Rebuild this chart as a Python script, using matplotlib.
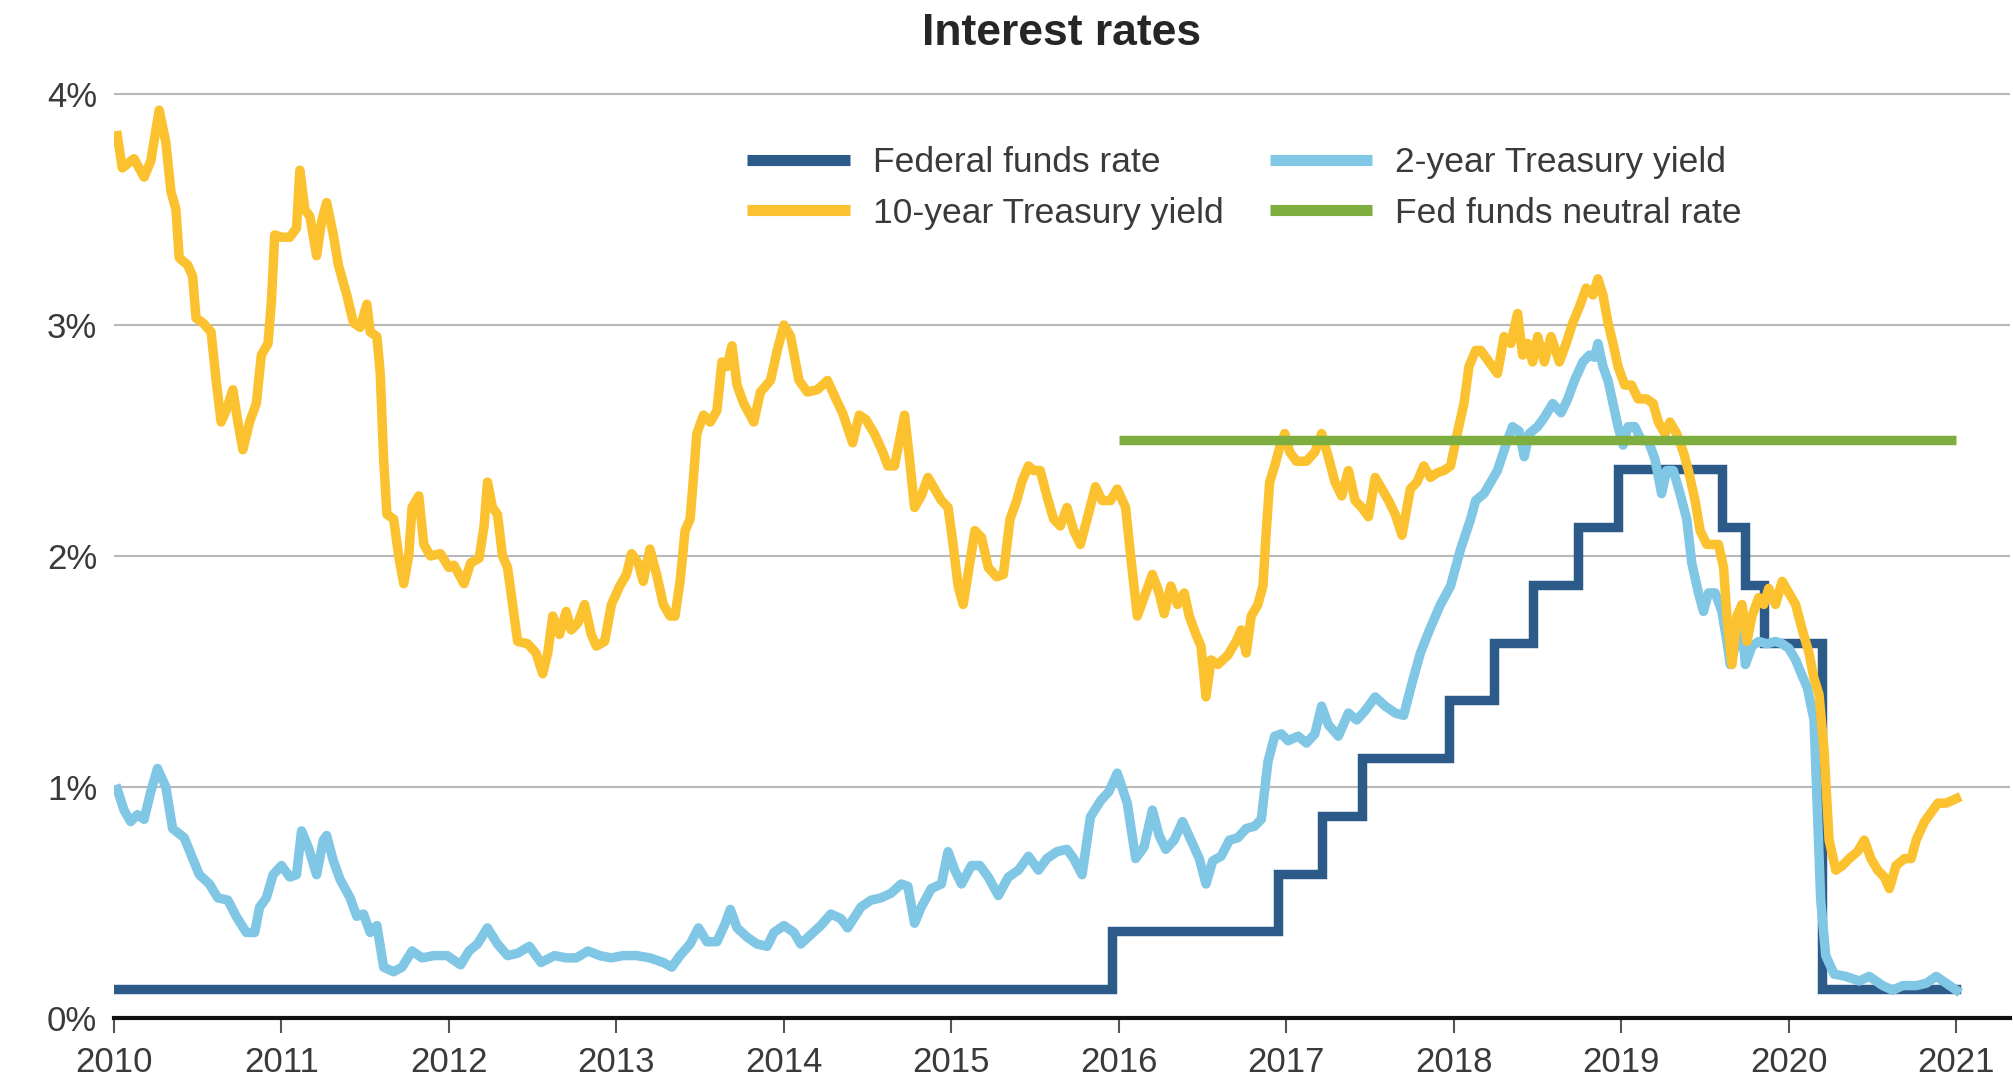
import matplotlib.pyplot as plt

# (decimal year, percent)
ten_year = [
    (2010.02, 3.82), (2010.05, 3.68), (2010.12, 3.72), (2010.18, 3.64), (2010.22, 3.71),
    (2010.27, 3.93), (2010.31, 3.79), (2010.34, 3.58), (2010.37, 3.50), (2010.39, 3.29),
    (2010.44, 3.26), (2010.47, 3.21), (2010.49, 3.03), (2010.53, 3.01), (2010.58, 2.97),
    (2010.61, 2.76), (2010.64, 2.58), (2010.67, 2.63), (2010.71, 2.72), (2010.74, 2.58),
    (2010.77, 2.46), (2010.81, 2.58), (2010.85, 2.66), (2010.88, 2.87), (2010.92, 2.92),
    (2010.94, 3.10), (2010.96, 3.39), (2011.00, 3.38), (2011.05, 3.38), (2011.09, 3.42),
    (2011.11, 3.67), (2011.14, 3.50), (2011.17, 3.47), (2011.21, 3.30), (2011.24, 3.45),
    (2011.27, 3.53), (2011.31, 3.39), (2011.34, 3.26), (2011.39, 3.13), (2011.43, 3.01),
    (2011.47, 2.99), (2011.51, 3.09), (2011.53, 2.97), (2011.57, 2.95), (2011.59, 2.79),
    (2011.61, 2.42), (2011.63, 2.18), (2011.67, 2.16), (2011.70, 2.00), (2011.73, 1.88),
    (2011.76, 2.00), (2011.78, 2.21), (2011.82, 2.26), (2011.85, 2.05), (2011.89, 2.00),
    (2011.95, 2.01), (2012.00, 1.95), (2012.03, 1.96), (2012.09, 1.88), (2012.13, 1.97),
    (2012.18, 1.99), (2012.21, 2.13), (2012.23, 2.32), (2012.26, 2.21), (2012.29, 2.18),
    (2012.32, 2.00), (2012.35, 1.95), (2012.38, 1.79), (2012.41, 1.63), (2012.47, 1.62),
    (2012.52, 1.58), (2012.56, 1.49), (2012.59, 1.58), (2012.62, 1.74), (2012.66, 1.66),
    (2012.70, 1.76), (2012.73, 1.68), (2012.77, 1.71), (2012.81, 1.79), (2012.85, 1.66),
    (2012.88, 1.61), (2012.93, 1.63), (2012.97, 1.79), (2013.02, 1.87), (2013.06, 1.92),
    (2013.09, 2.01), (2013.13, 1.97), (2013.16, 1.89), (2013.20, 2.03), (2013.24, 1.92),
    (2013.28, 1.79), (2013.32, 1.74), (2013.35, 1.74), (2013.38, 1.89), (2013.41, 2.11),
    (2013.44, 2.16), (2013.46, 2.34), (2013.48, 2.53), (2013.52, 2.61), (2013.56, 2.58),
    (2013.60, 2.63), (2013.63, 2.84), (2013.66, 2.82), (2013.69, 2.91), (2013.72, 2.74),
    (2013.76, 2.66), (2013.82, 2.58), (2013.86, 2.71), (2013.92, 2.76), (2013.96, 2.89),
    (2014.00, 3.00), (2014.04, 2.95), (2014.09, 2.76), (2014.14, 2.71), (2014.20, 2.72),
    (2014.26, 2.76), (2014.31, 2.68), (2014.35, 2.62), (2014.41, 2.49), (2014.45, 2.61),
    (2014.49, 2.59), (2014.54, 2.53), (2014.59, 2.45), (2014.62, 2.39), (2014.66, 2.39),
    (2014.69, 2.50), (2014.72, 2.61), (2014.75, 2.42), (2014.78, 2.21), (2014.82, 2.26),
    (2014.86, 2.34), (2014.90, 2.29), (2014.94, 2.24), (2014.98, 2.21), (2015.01, 2.05),
    (2015.04, 1.87), (2015.07, 1.79), (2015.11, 1.97), (2015.14, 2.11), (2015.18, 2.08),
    (2015.22, 1.95), (2015.27, 1.91), (2015.31, 1.92), (2015.35, 2.16), (2015.39, 2.24),
    (2015.42, 2.32), (2015.46, 2.39), (2015.49, 2.37), (2015.53, 2.37), (2015.57, 2.26),
    (2015.61, 2.16), (2015.65, 2.13), (2015.69, 2.21), (2015.73, 2.11), (2015.77, 2.05),
    (2015.81, 2.16), (2015.86, 2.30), (2015.90, 2.24), (2015.95, 2.24), (2015.99, 2.29),
    (2016.04, 2.21), (2016.07, 2.00), (2016.11, 1.74), (2016.15, 1.82), (2016.20, 1.92),
    (2016.24, 1.84), (2016.27, 1.75), (2016.31, 1.87), (2016.35, 1.79), (2016.39, 1.84),
    (2016.42, 1.74), (2016.46, 1.66), (2016.49, 1.61), (2016.52, 1.39), (2016.55, 1.55),
    (2016.59, 1.53), (2016.65, 1.57), (2016.70, 1.63), (2016.73, 1.68), (2016.76, 1.58),
    (2016.79, 1.74), (2016.83, 1.79), (2016.86, 1.87), (2016.88, 2.11), (2016.90, 2.32),
    (2016.93, 2.39), (2016.96, 2.47), (2016.99, 2.53), (2017.02, 2.45), (2017.06, 2.41),
    (2017.12, 2.41), (2017.17, 2.45), (2017.21, 2.53), (2017.25, 2.43), (2017.29, 2.32),
    (2017.33, 2.26), (2017.37, 2.37), (2017.41, 2.24), (2017.45, 2.21), (2017.49, 2.17),
    (2017.53, 2.34), (2017.57, 2.29), (2017.61, 2.24), (2017.65, 2.18), (2017.69, 2.09),
    (2017.72, 2.21), (2017.74, 2.29), (2017.78, 2.32), (2017.82, 2.39), (2017.86, 2.34),
    (2017.90, 2.36), (2017.94, 2.37), (2017.98, 2.39), (2018.02, 2.53), (2018.06, 2.66),
    (2018.09, 2.82), (2018.13, 2.89), (2018.16, 2.89), (2018.21, 2.84), (2018.26, 2.79),
    (2018.30, 2.95), (2018.34, 2.92), (2018.38, 3.05), (2018.41, 2.87), (2018.44, 2.92),
    (2018.47, 2.84), (2018.50, 2.95), (2018.54, 2.84), (2018.58, 2.95), (2018.63, 2.84),
    (2018.67, 2.92), (2018.71, 3.01), (2018.75, 3.08), (2018.79, 3.16), (2018.83, 3.13),
    (2018.86, 3.20), (2018.89, 3.13), (2018.92, 3.01), (2018.95, 2.92), (2018.98, 2.82),
    (2019.02, 2.74), (2019.06, 2.74), (2019.10, 2.68), (2019.15, 2.68), (2019.19, 2.66),
    (2019.22, 2.58), (2019.26, 2.53), (2019.29, 2.58), (2019.33, 2.53), (2019.37, 2.45),
    (2019.40, 2.37), (2019.44, 2.24), (2019.47, 2.11), (2019.51, 2.05), (2019.55, 2.05),
    (2019.58, 2.05), (2019.61, 1.95), (2019.63, 1.74), (2019.66, 1.53), (2019.69, 1.74),
    (2019.72, 1.79), (2019.75, 1.63), (2019.78, 1.74), (2019.82, 1.82), (2019.85, 1.79),
    (2019.88, 1.86), (2019.92, 1.79), (2019.96, 1.89), (2020.00, 1.84), (2020.04, 1.79),
    (2020.08, 1.68), (2020.12, 1.58), (2020.15, 1.47), (2020.18, 1.40), (2020.21, 1.16),
    (2020.24, 0.77), (2020.28, 0.64), (2020.32, 0.66), (2020.36, 0.69), (2020.41, 0.72),
    (2020.45, 0.77), (2020.49, 0.69), (2020.53, 0.64), (2020.57, 0.61), (2020.60, 0.56),
    (2020.64, 0.66), (2020.69, 0.69), (2020.73, 0.69), (2020.76, 0.77), (2020.81, 0.85),
    (2020.86, 0.90), (2020.89, 0.93), (2020.94, 0.93), (2021.00, 0.95),
]

two_year = [
    (2010.02, 0.99), (2010.06, 0.90), (2010.10, 0.85), (2010.14, 0.88), (2010.18, 0.86),
    (2010.22, 0.98), (2010.26, 1.08), (2010.31, 1.00), (2010.35, 0.82), (2010.42, 0.78),
    (2010.47, 0.69), (2010.51, 0.62), (2010.57, 0.58), (2010.62, 0.52), (2010.68, 0.51),
    (2010.73, 0.44), (2010.79, 0.37), (2010.84, 0.37), (2010.87, 0.48), (2010.91, 0.52),
    (2010.95, 0.62), (2011.00, 0.66), (2011.05, 0.61), (2011.09, 0.62), (2011.12, 0.81),
    (2011.16, 0.74), (2011.21, 0.62), (2011.25, 0.77), (2011.27, 0.79), (2011.31, 0.68),
    (2011.35, 0.60), (2011.41, 0.52), (2011.45, 0.44), (2011.49, 0.45), (2011.53, 0.37),
    (2011.57, 0.40), (2011.61, 0.22), (2011.67, 0.20), (2011.72, 0.22), (2011.78, 0.29),
    (2011.84, 0.26), (2011.91, 0.27), (2011.99, 0.27), (2012.07, 0.23), (2012.12, 0.29),
    (2012.17, 0.32), (2012.23, 0.39), (2012.29, 0.32), (2012.35, 0.27), (2012.41, 0.28),
    (2012.48, 0.31), (2012.55, 0.24), (2012.63, 0.27), (2012.70, 0.26), (2012.76, 0.26),
    (2012.83, 0.29), (2012.90, 0.27), (2012.97, 0.26), (2013.04, 0.27), (2013.12, 0.27),
    (2013.20, 0.26), (2013.28, 0.24), (2013.33, 0.22), (2013.38, 0.27), (2013.44, 0.32),
    (2013.49, 0.39), (2013.54, 0.33), (2013.60, 0.33), (2013.65, 0.41), (2013.68, 0.47),
    (2013.72, 0.39), (2013.78, 0.35), (2013.84, 0.32), (2013.90, 0.31), (2013.94, 0.37),
    (2014.00, 0.40), (2014.06, 0.37), (2014.10, 0.32), (2014.16, 0.36), (2014.22, 0.40),
    (2014.28, 0.45), (2014.34, 0.43), (2014.38, 0.39), (2014.46, 0.48), (2014.52, 0.51),
    (2014.58, 0.52), (2014.64, 0.54), (2014.70, 0.58), (2014.74, 0.57), (2014.78, 0.41),
    (2014.82, 0.48), (2014.88, 0.56), (2014.94, 0.58), (2014.98, 0.72), (2015.02, 0.64),
    (2015.06, 0.58), (2015.12, 0.66), (2015.17, 0.66), (2015.22, 0.61), (2015.28, 0.53),
    (2015.34, 0.61), (2015.40, 0.64), (2015.46, 0.70), (2015.52, 0.64), (2015.57, 0.69),
    (2015.63, 0.72), (2015.69, 0.73), (2015.73, 0.69), (2015.78, 0.62), (2015.83, 0.87),
    (2015.89, 0.94), (2015.94, 0.98), (2015.99, 1.06), (2016.05, 0.93), (2016.10, 0.69),
    (2016.15, 0.74), (2016.20, 0.90), (2016.24, 0.79), (2016.28, 0.73), (2016.33, 0.77),
    (2016.38, 0.85), (2016.43, 0.77), (2016.48, 0.69), (2016.52, 0.58), (2016.56, 0.68),
    (2016.61, 0.70), (2016.66, 0.77), (2016.71, 0.78), (2016.76, 0.82), (2016.81, 0.83),
    (2016.85, 0.86), (2016.89, 1.11), (2016.93, 1.22), (2016.97, 1.23), (2017.01, 1.20),
    (2017.07, 1.22), (2017.12, 1.19), (2017.17, 1.23), (2017.21, 1.35), (2017.25, 1.27),
    (2017.31, 1.22), (2017.37, 1.32), (2017.42, 1.29), (2017.47, 1.33), (2017.53, 1.39),
    (2017.59, 1.35), (2017.65, 1.32), (2017.70, 1.31), (2017.75, 1.45), (2017.80, 1.58),
    (2017.86, 1.69), (2017.92, 1.79), (2017.98, 1.87), (2018.04, 2.03), (2018.10, 2.16),
    (2018.13, 2.24), (2018.18, 2.27), (2018.22, 2.32), (2018.26, 2.37), (2018.31, 2.48),
    (2018.35, 2.56), (2018.39, 2.54), (2018.42, 2.43), (2018.45, 2.53), (2018.50, 2.56),
    (2018.54, 2.60), (2018.59, 2.66), (2018.64, 2.62), (2018.68, 2.68), (2018.72, 2.76),
    (2018.77, 2.84), (2018.81, 2.87), (2018.84, 2.86), (2018.86, 2.92), (2018.89, 2.82),
    (2018.92, 2.76), (2018.95, 2.66), (2018.98, 2.56), (2019.01, 2.48), (2019.04, 2.56),
    (2019.08, 2.56), (2019.12, 2.50), (2019.16, 2.50), (2019.20, 2.42), (2019.24, 2.27),
    (2019.27, 2.37), (2019.31, 2.37), (2019.35, 2.27), (2019.39, 2.16), (2019.42, 1.97),
    (2019.46, 1.84), (2019.49, 1.76), (2019.52, 1.84), (2019.56, 1.84), (2019.60, 1.76),
    (2019.63, 1.63), (2019.65, 1.53), (2019.68, 1.61), (2019.72, 1.71), (2019.74, 1.53),
    (2019.78, 1.61), (2019.82, 1.63), (2019.87, 1.62), (2019.92, 1.63), (2019.96, 1.62),
    (2020.00, 1.60), (2020.04, 1.55), (2020.08, 1.48), (2020.11, 1.43), (2020.15, 1.29),
    (2020.17, 0.90), (2020.19, 0.51), (2020.22, 0.27), (2020.27, 0.19), (2020.34, 0.18),
    (2020.42, 0.16), (2020.48, 0.18), (2020.56, 0.14), (2020.62, 0.12), (2020.68, 0.14),
    (2020.76, 0.14), (2020.82, 0.15), (2020.88, 0.18), (2020.94, 0.15), (2021.00, 0.12),
]

# target range midpoints, each value holds until the next date
fed_funds_dates = [2010.0, 2015.96, 2016.95, 2017.21, 2017.45, 2017.97, 2018.24,
                   2018.47, 2018.74, 2018.98, 2019.60, 2019.74, 2019.85, 2020.20, 2021.0]
fed_funds = [0.125, 0.375, 0.625, 0.875, 1.125, 1.375, 1.625,
             1.875, 2.125, 2.375, 2.125, 1.875, 1.625, 0.125, 0.125]

neutral_dates = [2016.0, 2021.0]
neutral = [2.5, 2.5]

year_ticks = list(range(2010, 2022))
pct_ticks = [0, 1, 2, 3, 4]

c_fed = "#2c5b8a"
c_two = "#80c6e5"
c_ten = "#fbc12e"
c_neu = "#7fae40"
txt = "#3a3a3a"

plt.rcParams["font.family"] = ["Liberation Sans", "DejaVu Sans"]

fig = plt.figure(figsize=(20.13, 10.78), dpi=100)
ax = fig.add_axes([0.0566, 0.0557, 0.9419, 0.8678])

lw = 6.8
ax.plot(fed_funds_dates, fed_funds, drawstyle="steps-post", color=c_fed, lw=lw,
        label="Federal funds rate", solid_joinstyle="miter")
t2, v2 = zip(*two_year)
ax.plot(t2, v2, color=c_two, lw=lw, label="2-year Treasury yield", solid_joinstyle="round")
t10, v10 = zip(*ten_year)
ax.plot(t10, v10, color=c_ten, lw=lw, label="10-year Treasury yield", solid_joinstyle="round")
ax.plot(neutral_dates, neutral, color=c_neu, lw=lw, label="Fed funds neutral rate",
        solid_capstyle="butt")

ax.set_xlim(2010, 2021.32)
ax.set_ylim(0, 4.05)
ax.set_xticks(year_ticks)
ax.set_xticklabels([str(y) for y in year_ticks])
ax.set_yticks(pct_ticks)
ax.set_yticklabels([f"{p}%" for p in pct_ticks])

ax.grid(axis="y", color="#b8b8b8", lw=1.5)
ax.set_axisbelow(True)
for side in ("top", "right", "left"):
    ax.spines[side].set_visible(False)
ax.spines["bottom"].set_color("#111111")
ax.spines["bottom"].set_linewidth(3)
ax.spines["bottom"].set_zorder(5)

ax.tick_params(axis="x", direction="out", length=11, width=1.5, color="#555555",
               labelsize=25, labelcolor=txt, pad=9)
ax.tick_params(axis="y", length=0, labelsize=25, labelcolor=txt, pad=12)

fig.text(0.5276, 1 - 45 / 1078, "Interest rates", ha="center", va="baseline",
         fontsize=32, fontweight="bold", color="#262626")

handles, labels = ax.get_legend_handles_labels()
order = [0, 2, 1, 3]
leg = ax.legend([handles[i] for i in order], [labels[i] for i in order], ncol=2,
                loc="upper left", bbox_to_anchor=(747 / 2013, 1 - 146 / 1078),
                bbox_transform=fig.transFigure, frameon=False, fontsize=25.5,
                handlelength=2.9, handletextpad=0.65, columnspacing=1.3,
                labelspacing=0.5, borderpad=0, borderaxespad=0)
for line in leg.get_lines():
    line.set_linewidth(8)
    line.set_solid_capstyle("butt")
for t in leg.get_texts():
    t.set_color(txt)

fig.savefig("out.png", dpi=100)
